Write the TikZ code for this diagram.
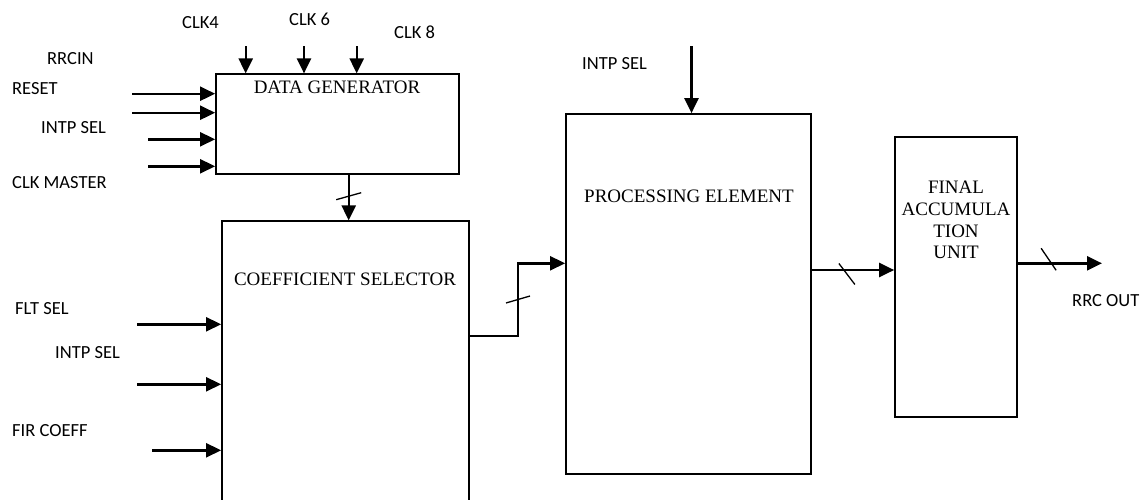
\documentclass[tikz,border=0pt]{standalone}
\usepackage{fontspec}
\setmainfont{Liberation Serif}
\newfontfamily\lblfont{Carlito}
\usetikzlibrary{arrows.meta,calc}
\begin{document}
\begin{tikzpicture}[x=1pt,y=-1pt,
  blk/.style={draw,line width=1.8pt,inner sep=0pt,minimum width=#1},
  arr/.style={line width=2.4pt,-{Triangle[length=15pt,width=14pt]}},
  slash/.style={line width=1.3pt},
  lbl/.style={anchor=base west,inner sep=0pt,font=\lblfont\fontsize{18.5}{21}\selectfont},
  ttl/.style={anchor=base,inner sep=0pt,font=\fontsize{19}{21}\selectfont}]
\useasboundingbox (0,0) rectangle (1143,499);
\clip (0,0) rectangle (1143,499);
% blocks
\node[blk=243pt,minimum height=100pt] (dg) at (337.5,124.3) {};
\node[blk=247pt,minimum height=309pt] (cs) at (345.5,375.8) {};
\node[blk=245pt,minimum height=360.3pt] (pe) at (688.5,294.2) {};
\node[blk=121.7pt,minimum height=280.3pt] (fa) at (955.9,277.2) {};
% block titles
\node[ttl] (dgt) at (337,93.8) {DATA GENERATOR};
\node[ttl] (cst) at (345,285.8) {COEFFICIENT SELECTOR};
\node[ttl] (pet) at (689,202.5) {PROCESSING ELEMENT};
\node[ttl] (fat1) at (956,193.8) {FINAL};
\node[ttl] (fat2) at (956,215.8) {ACCUMULA};
\node[ttl] (fat3) at (956,237) {TION};
\node[ttl] (fat4) at (956,258.2) {UNIT};
% labels
\node[lbl] (lrrcin) at (47,64.5) {RRCIN};
\node[lbl] (lreset) at (12,94.8) {RESET};
\node[lbl] (lintp1) at (41,133.8) {INTP SEL};
\node[lbl] (lclkm) at (12,188.5) {CLK MASTER};
\node[lbl] (lclk4) at (182,28.1) {CLK4};
\node[lbl] (lclk6) at (289,25.8) {CLK 6};
\node[lbl] (lclk8) at (394,38.5) {CLK 8};
\node[lbl] (lintp2) at (582,69.1) {INTP SEL};
\node[lbl] (lflt) at (15,314.1) {FLT SEL};
\node[lbl] (lintp3) at (55,358.5) {INTP SEL};
\node[lbl] (lfir) at (12,436.1) {FIR COEFF};
\node[lbl] (lout) at (1072,306.8) {RRC OUT};
% free ends
\coordinate (i1) at (132,93.7);
\coordinate (i2) at (132,112.7);
\coordinate (i3) at (148,139.3);
\coordinate (i4) at (148,166.3);
\coordinate (t4) at (245.7,46);
\coordinate (t6) at (304,46);
\coordinate (t8) at (356.7,46);
\coordinate (tp) at (691.5,46);
\coordinate (f1) at (137,324.3);
\coordinate (f2) at (137,384.3);
\coordinate (f3) at (152,450.3);
\coordinate (jog) at (518,300);
\coordinate (out) at (1102,263.3);
% data generator inputs
\draw[arr] (i1) -- (i1 -| dg.west);
\draw[arr] (i2) -- (i2 -| dg.west);
\draw[arr] (i3) -- (i3 -| dg.west);
\draw[arr] (i4) -- (i4 -| dg.west);
\draw[arr] (t4) -- (t4 |- dg.north);
\draw[arr] (t6) -- (t6 |- dg.north);
\draw[arr] (t8) -- (t8 |- dg.north);
% processing element input
\draw[arr] (tp) -- (tp |- pe.north);
% coefficient selector inputs
\draw[arr] (f1) -- (f1 -| cs.west);
\draw[arr] (f2) -- (f2 -| cs.west);
\draw[arr] (f3) -- (f3 -| cs.west);
% DG -> CS
\draw[arr] ([xshift=11.2pt]dg.south) -- ([xshift=11.2pt]dg.south |- cs.north);
\draw[slash] ($([xshift=11.2pt]dg.south)+(0,21)$) +(-12.5,3.5) -- +(12.5,-3.5);
% CS -> PE
\draw[arr] (cs.east |- 0,336) -| (jog) |- (pe.west |- 0,263.3);
\draw[slash] (jog) +(-12,3) -- +(12,-4);
% PE -> FA
\draw[arr] (pe.east |- 0,270) -- (fa.west |- 0,270);
\draw[slash] ($(pe.east |- 0,270)+(35,4)$) +(-8,-10.5) -- +(8,10.5);
% FA -> out
\draw[arr] (out -| fa.east) -- (out);
\draw[slash] ($(out -| fa.east)+(31,-4)$) +(-7.5,-11) -- +(7.5,11);
\end{tikzpicture}
\end{document}
